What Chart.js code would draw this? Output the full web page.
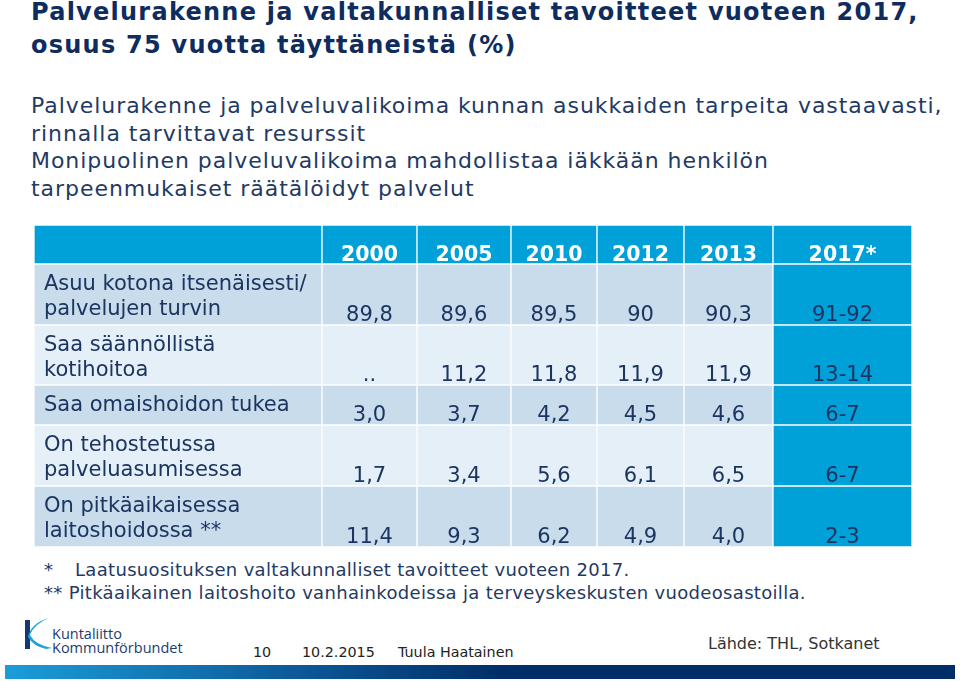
<!DOCTYPE html>
<html>
<head>
<meta charset="utf-8">
<script src="https://cdn.jsdelivr.net/npm/chart.js@4.4.0/dist/chart.umd.min.js"></script>
<style>
  body { margin: 0; width: 960px; height: 681px; position: relative; overflow: hidden; background: #fff;
         font-family: "DejaVu Sans", Verdana, sans-serif; }
  .t { position: absolute; white-space: nowrap; }
  #title { left: 31px; top: -4px; font-size: 24px; font-weight: bold; line-height: 32.6px; color: #0e2d5e; letter-spacing: 1.25px; }
  #intro { left: 31px; top: 92px; font-size: 22px; line-height: 27.7px; color: #1f3a64; letter-spacing: 0.95px; }
  .note { font-size: 18px; line-height: 22px; color: #1f3a64; letter-spacing: 0.32px; }
  .foot { font-size: 14.3px; line-height: 18px; color: #222; }
  #tableWrap { position: absolute; left: 34px; top: 225px; width: 878px; height: 322px; }
  #bar { position: absolute; left: 5px; top: 665px; width: 950px; height: 14px;
         background: linear-gradient(to right, #1b9dd8 0%, #0d5a9a 30%, #002f68 52%, #002e66 100%); }
</style>
</head>
<body>
<div class="t" id="title">Palvelurakenne ja valtakunnalliset tavoitteet vuoteen 2017,<br>osuus 75 vuotta täyttäneistä (%)</div>
<div class="t" id="intro">Palvelurakenne ja palveluvalikoima kunnan asukkaiden tarpeita vastaavasti,<br>rinnalla tarvittavat resurssit<br>Monipuolinen palveluvalikoima mahdollistaa iäkkään henkilön<br>tarpeenmukaiset räätälöidyt palvelut</div>

<div id="tableWrap"><canvas id="table" width="878" height="322"></canvas></div>

<div class="t note" style="left:44px; top:559px;">*</div>
<div class="t note" style="left:75px; top:559px;">Laatusuosituksen valtakunnalliset tavoitteet vuoteen 2017.</div>
<div class="t note" style="left:44px; top:582px;">** Pitkäaikainen laitoshoito vanhainkodeissa ja terveyskeskusten vuodeosastoilla.</div>

<svg style="position:absolute; left:0; top:600px;" width="200" height="60">
  <rect x="25" y="20" width="5" height="29" fill="#123a72"/>
  <path d="M49,18 Q34,24 30,35 Q35,45 52,48 L46,49 Q33,46 28,37 Q31,23 49,18 Z" fill="#1ca3dc"/>
  <text x="52" y="39" font-family="Open Sans, sans-serif" font-size="14.5" fill="#1b3d6e">Kuntaliitto</text>
  <text x="52" y="53" font-family="Open Sans, sans-serif" font-size="14.5" fill="#1b3d6e">Kommunförbundet</text>
</svg>

<div class="t foot" style="left:253px; top:643px;">10</div>
<div class="t foot" style="left:302px; top:643px;">10.2.2015</div>
<div class="t foot" style="left:398px; top:643px;">Tuula Haatainen</div>
<div class="t" style="left:708px; top:634px; font-size:16px; line-height:20px; color:#333;">Lähde: THL, Sotkanet</div>
<div id="bar"></div>

<script>
// table content
const rowLabels = [
  "Asuu kotona itsenäisesti/\npalvelujen turvin",
  "Saa säännöllistä\nkotihoitoa",
  "Saa omaishoidon tukea",
  "On tehostetussa\npalveluasumisessa",
  "On pitkäaikaisessa\nlaitoshoidossa **"
];
const years = ["2000", "2005", "2010", "2012", "2013", "2017*"];
const kotona = ["89,8", "89,6", "89,5", "90", "90,3", "91-92"];
const kotihoito = ["..", "11,2", "11,8", "11,9", "11,9", "13-14"];
const omaishoito = ["3,0", "3,7", "4,2", "4,5", "4,6", "6-7"];
const tehostettu = ["1,7", "3,4", "5,6", "6,1", "6,5", "6-7"];
const laitos = ["11,4", "9,3", "6,2", "4,9", "4,0", "2-3"];
const rows = [kotona, kotihoito, omaishoito, tehostettu, laitos];

// grid layout (scale units)
const colWidths = [288, 95, 94, 86, 87, 89, 139];
const rowHeights = [39, 61, 60, 40, 61, 61];

const colEdges = [0];
colWidths.forEach(w => colEdges.push(colEdges[colEdges.length - 1] + w));
const rowEdges = [0];
rowHeights.forEach(h => rowEdges.push(rowEdges[rowEdges.length - 1] + h));

const headBlue = "#00a0d8";
const rowShades = ["#c8dcec", "#e5eff7"];

function cellColor(r, c) {
  if (r === 0 || c === colWidths.length - 1) return headBlue;
  return rowShades[(r - 1) % 2];
}

const tableRows = [["", ...years]].concat(rows.map((vals, i) => [rowLabels[i], ...vals]));

const datasets = tableRows.map((texts, r) => ({
  texts: texts,
  data: colWidths.map((w, c) => ({ x: [colEdges[c], colEdges[c + 1]], y: (rowEdges[r] + rowEdges[r + 1]) / 2 })),
  backgroundColor: ctx => cellColor(r, ctx.dataIndex),
  borderColor: "#ffffff",
  borderWidth: 1,
  borderSkipped: false,
  barThickness: rowHeights[r],
  stack: "table"
}));

const cellText = {
  id: "cellText",
  afterDatasetsDraw(chart) {
    const ctx = chart.ctx;
    ctx.save();
    chart.data.datasets.forEach((ds, r) => {
      chart.getDatasetMeta(r).data.forEach((bar, c) => {
        const left = Math.min(bar.x, bar.base);
        const right = Math.max(bar.x, bar.base);
        const top = bar.y - bar.height / 2;
        const bottom = bar.y + bar.height / 2;
        const txt = ds.texts[c];
        if (!txt) return;
        if (r === 0) {
          ctx.font = "bold 20.5px 'DejaVu Sans'";
          ctx.fillStyle = "#ffffff";
          ctx.textAlign = "center";
          ctx.fillText(txt, (left + right) / 2, bottom - 3.5);
        } else if (c === 0) {
          ctx.font = "21px 'DejaVu Sans'";
          ctx.fillStyle = "#1b3560";
          ctx.textAlign = "left";
          txt.split("\n").forEach((line, k) => ctx.fillText(line, left + 10, top + 26 + k * 24.5));
        } else {
          ctx.font = "21px 'DejaVu Sans'";
          ctx.fillStyle = "#1b3560";
          ctx.textAlign = "center";
          ctx.fillText(txt, (left + right) / 2, bottom - 4);
        }
      });
    });
    ctx.restore();
  }
};

new Chart(document.getElementById("table"), {
  type: "bar",
  data: { datasets: datasets },
  options: {
    indexAxis: "y",
    responsive: false,
    devicePixelRatio: 1,
    animation: false,
    events: [],
    layout: { padding: 0 },
    plugins: { legend: { display: false }, tooltip: { enabled: false } },
    scales: {
      x: { type: "linear", min: 0, max: colEdges[colEdges.length - 1], display: false, stacked: false, offset: false },
      y: { type: "linear", min: 0, max: rowEdges[rowEdges.length - 1], reverse: true, display: false, offset: false }
    }
  },
  plugins: [cellText]
});
</script>
</body>
</html>
